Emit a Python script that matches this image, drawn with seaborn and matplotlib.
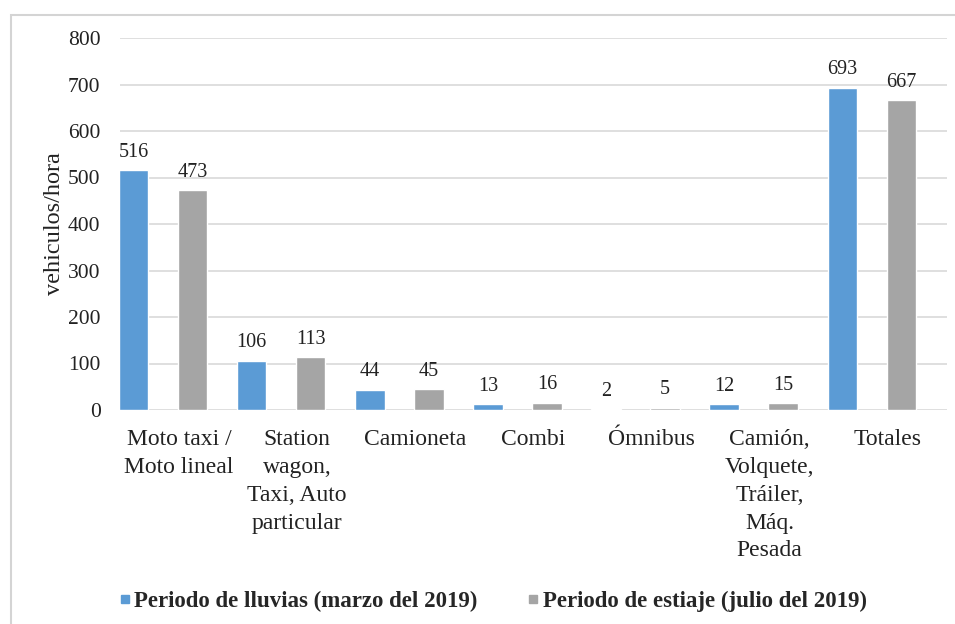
import pandas as pd
import seaborn as sns
import matplotlib.pyplot as plt
from matplotlib.patches import Rectangle
from matplotlib.lines import Line2D

# ---------------- data ----------------
categorias = ["Moto taxi /\nMoto lineal", "Station\nwagon,\nTaxi, Auto\nparticular",
              "Camioneta", "Combi", "Ómnibus",
              "Camión,\nVolquete,\nTráiler,\nMáq.\nPesada", "Totales"]
lluvias = [516, 106, 44, 13, 2, 12, 693]
estiaje = [473, 113, 45, 16, 5, 15, 667]
serie_lluvias = "Periodo de lluvias (marzo del 2019)"
serie_estiaje = "Periodo de estiaje (julio del 2019)"
y_ticks = [0, 100, 200, 300, 400, 500, 600, 700, 800]

df = pd.DataFrame({
    "categoria": categorias * 2,
    "valor": lluvias + estiaje,
    "periodo": [serie_lluvias] * len(categorias) + [serie_estiaje] * len(categorias),
})

colores = {serie_lluvias: "#5B9BD5", serie_estiaje: "#A5A5A5"}

sns.set_style("white")
plt.rcParams["font.family"] = ["Liberation Serif", "DejaVu Serif"]

fig = plt.figure(figsize=(9.55, 6.24), dpi=100)
ax = fig.add_axes([120 / 955, 1 - 410 / 624, 827 / 955, 372 / 624])

sns.barplot(data=df,
            x="categoria",
            y="valor",
            hue="periodo",
            palette=colores,
            width=1.0,
            gap=0.5,
            saturation=1,
            legend=False,
            ax=ax)

for cont in ax.containers:
    ax.bar_label(cont, padding=6, fontsize=14.5, color="#222222")

ax.set_ylim(0, 800)
ax.set_xlim(-0.364, 6.636)
ax.set_yticks(y_ticks)
ax.set_yticklabels([str(v) for v in y_ticks], fontsize=15.5, color="#222222")
ax.set_xticks([i + 0.135 for i in range(len(categorias))])
ax.set_xticklabels(categorias, fontsize=17, color="#222222", va="top", linespacing=1.42)
ax.tick_params(axis="x", length=0, pad=14)
ax.tick_params(axis="y", length=0, pad=14)
ax.yaxis.grid(True, color="#d9d9d9", linewidth=1.2)
ax.set_axisbelow(True)
for s in ax.spines.values():
    s.set_visible(False)
ax.set_xlabel("")
ax.set_ylabel("vehiculos/hora", fontsize=17.5, color="#222222", labelpad=2)

# light outer frame of the chart
fig.patches.append(Rectangle((11 / 955, -0.2), 1.2, 1.2 - 15 / 624, transform=fig.transFigure,
                             fill=False, edgecolor="#d4d4d4", linewidth=1.5))

handles = [Line2D([], [], marker="s", linestyle="", markersize=5.5, color=colores[serie_lluvias]),
           Line2D([], [], marker="s", linestyle="", markersize=5.5, color=colores[serie_estiaje])]
fig.legend(handles, [serie_lluvias, serie_estiaje], loc="center", bbox_to_anchor=(0.516, 0.036),
           ncol=2, frameon=False, prop={"weight": "bold", "size": 16.5},
           handletextpad=0.15, columnspacing=2.2, handlelength=0.5)

plt.savefig("out.png", dpi=100)
plt.close()
